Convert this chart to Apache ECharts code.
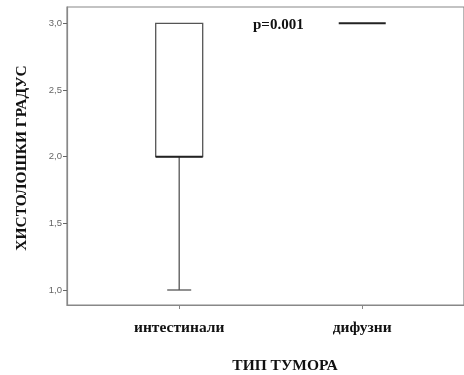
<!DOCTYPE html>
<html>
<head>
<meta charset="utf-8">
<script src="https://cdn.jsdelivr.net/npm/echarts@6/dist/echarts.min.js"></script>
<style>
  html, body { margin: 0; padding: 0; background: #fff; }
  #chart { width: 464px; height: 375px; }
</style>
</head>
<body>
<div id="chart"></div>
<script>
// Tumour type categories and the five-number summary of histological grade
const categories = ['интестинали', 'дифузни'];
const whiskerLow = [1, 3];
const quartile1 = [2, 3];
const median = [2, 3];
const quartile3 = [3, 3];
const whiskerHigh = [3, 3];
const yTicks = [1, 1.5, 2, 2.5, 3];
const pText = 'p=0.001';

const boxData = categories.map((c, i) => [i, whiskerLow[i], quartile1[i], median[i], quartile3[i], whiskerHigh[i]]);

const serif = '"Liberation Serif", "DejaVu Serif", serif';

function renderBox(params, api) {
  const x = api.value(0);
  const lo = api.coord([x, api.value(1)]);
  const q1 = api.coord([x, api.value(2)]);
  const md = api.coord([x, api.value(3)]);
  const q3 = api.coord([x, api.value(4)]);
  const hi = api.coord([x, api.value(5)]);
  const half = 23.5;
  const cap = 12;
  const cx = lo[0];
  const children = [];
  const lineStyle = { stroke: '#555', lineWidth: 1.3, fill: null };
  if (q1[1] - q3[1] > 0.5) {
    children.push({ type: 'rect', shape: { x: cx - half, y: q3[1], width: half * 2, height: q1[1] - q3[1] },
      style: { stroke: '#555', lineWidth: 1.3, fill: '#fff' } });
  }
  if (lo[1] - q1[1] > 0.5) {
    children.push({ type: 'line', shape: { x1: cx, y1: q1[1], x2: cx, y2: lo[1] }, style: lineStyle });
    children.push({ type: 'line', shape: { x1: cx - cap, y1: lo[1], x2: cx + cap, y2: lo[1] }, style: lineStyle });
  }
  if (q3[1] - hi[1] > 0.5) {
    children.push({ type: 'line', shape: { x1: cx, y1: q3[1], x2: cx, y2: hi[1] }, style: lineStyle });
    children.push({ type: 'line', shape: { x1: cx - cap, y1: hi[1], x2: cx + cap, y2: hi[1] }, style: lineStyle });
  }
  children.push({ type: 'line', shape: { x1: cx - half, y1: md[1], x2: cx + half, y2: md[1] },
    style: { stroke: '#222', lineWidth: 2 } });
  return { type: 'group', children };
}

const chart = echarts.init(document.getElementById('chart'), null, { renderer: 'canvas' });
chart.setOption({
  animation: false,
  backgroundColor: '#fff',
  grid: { left: 67, right: -1, top: 7, bottom: 70, show: true, borderColor: '#888', borderWidth: 1.2, backgroundColor: '#fff' },
  xAxis: {
    type: 'value',
    min: -0.613,
    max: 1.556,
    splitLine: { show: false },
    axisLine: { show: true, onZero: false, lineStyle: { color: '#888', width: 1.2 } },
    axisTick: { show: true, length: 4, customValues: [0, 1], lineStyle: { color: '#888' } },
    axisLabel: {
      customValues: [0, 1],
      margin: 15,
      formatter: v => categories[Math.round(v)] || '',
      fontFamily: serif, fontWeight: 'bold', fontSize: 15.5, color: '#111'
    }
  },
  yAxis: {
    type: 'value',
    min: 0.8875,
    max: 3.1225,
    splitLine: { show: false },
    axisLine: { show: true, onZero: false, lineStyle: { color: '#888', width: 1.2 } },
    axisTick: { show: true, length: 4, customValues: yTicks, lineStyle: { color: '#666' } },
    axisLabel: {
      customValues: yTicks,
      margin: 5,
      formatter: v => v.toFixed(1).replace('.', ','),
      fontFamily: '"Liberation Sans", Arial, sans-serif', fontSize: 9.5, color: '#666'
    }
  },
  series: [{
    type: 'custom',
    renderItem: renderBox,
    data: boxData,
    encode: { x: 0, y: [1, 2, 3, 4, 5] },
    clip: false
  }],
  graphic: [
    { type: 'text', left: 253, top: 18, style: { text: pText, font: 'bold 15px ' + serif, fill: '#111' } },
    { type: 'text', x: 285, y: 366, style: { text: 'ТИП ТУМОРА', font: 'bold 15.5px ' + serif, fill: '#111', align: 'center', verticalAlign: 'middle' } },
    { type: 'text', x: 22, y: 158, rotation: Math.PI / 2, style: { text: 'ХИСТОЛОШКИ ГРАДУС', font: 'bold 15.5px ' + serif, fill: '#111', align: 'center', verticalAlign: 'middle' } }
  ]
});
</script>
</body>
</html>
